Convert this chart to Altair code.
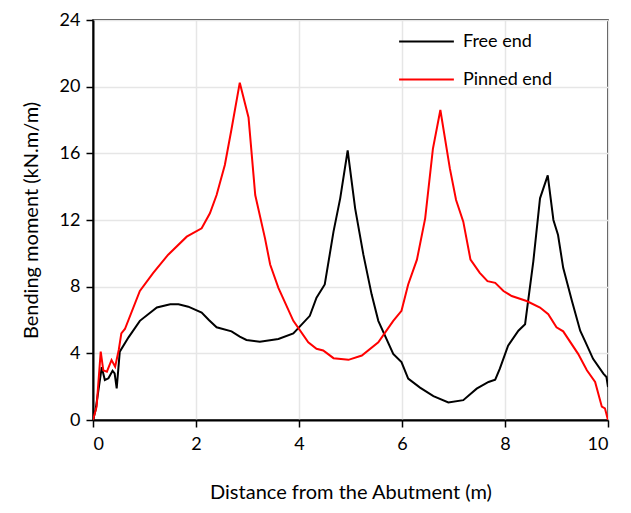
import altair as alt
import pandas as pd

free_x = [0.0, 0.05, 0.17, 0.23, 0.3, 0.38, 0.42, 0.46, 0.52, 0.69, 0.91, 1.24, 1.5, 1.66, 1.85,
          2.11, 2.25, 2.4, 2.69, 2.85, 2.98, 3.24, 3.6, 3.89, 4.21, 4.34, 4.5, 4.67, 4.8, 4.945,
          5.09, 5.25, 5.41, 5.54, 5.83, 5.99, 6.12, 6.35, 6.61, 6.9, 7.19, 7.45, 7.68, 7.81, 7.9,
          8.06, 8.26, 8.39, 8.55, 8.68, 8.83, 8.94, 9.03, 9.13, 9.3, 9.46, 9.55, 9.71, 9.91, 9.97, 10.0]
free_y = [0.0, 0.6, 3.17, 2.4, 2.5, 2.95, 2.8, 1.9, 4.1, 4.96, 5.95, 6.75, 6.94, 6.94, 6.8,
          6.45, 6.0, 5.56, 5.32, 5.0, 4.8, 4.7, 4.86, 5.2, 6.25, 7.34, 8.13, 11.3, 13.3, 16.17,
          12.7, 9.92, 7.54, 5.95, 3.97, 3.47, 2.48, 1.94, 1.43, 1.05, 1.19, 1.88, 2.28, 2.42, 3.08,
          4.46, 5.36, 5.75, 9.52, 13.3, 14.68, 12.0, 11.1, 9.13, 7.14, 5.36, 4.76, 3.67, 2.78, 2.58, 1.98]

pinned_x = [0.0, 0.07, 0.15, 0.2, 0.27, 0.36, 0.43, 0.5, 0.55, 0.62, 0.91, 1.17, 1.46, 1.82, 2.11,
            2.27, 2.4, 2.56, 2.69, 2.85, 3.02, 3.15, 3.34, 3.44, 3.6, 3.89, 4.18, 4.34, 4.47, 4.67,
            4.96, 5.22, 5.54, 5.83, 5.99, 6.12, 6.29, 6.45, 6.6, 6.745, 6.93, 7.05, 7.19, 7.33, 7.51,
            7.66, 7.81, 7.97, 8.13, 8.42, 8.68, 8.84, 9.0, 9.13, 9.42, 9.59, 9.75, 9.88, 9.94, 10.0]
pinned_y = [0.0, 0.8, 4.1, 2.98, 2.9, 3.6, 3.2, 4.2, 5.2, 5.46, 7.74, 8.83, 9.92, 11.0, 11.5,
            12.4, 13.5, 15.3, 17.46, 20.24, 18.15, 13.5, 10.9, 9.33, 7.93, 5.95, 4.66, 4.27, 4.17, 3.71,
            3.61, 3.87, 4.66, 5.95, 6.55, 8.13, 9.62, 12.1, 16.27, 18.6, 15.08, 13.2, 11.9, 9.62, 8.83,
            8.33, 8.23, 7.74, 7.44, 7.14, 6.75, 6.35, 5.56, 5.32, 3.97, 2.98, 2.28, 0.8, 0.7, 0.0]

series_names = ["Free end", "Pinned end"]
series_colors = ["#000000", "#ff0000"]
x_ticks = [0, 2, 4, 6, 8, 10]
y_ticks = [0, 4, 8, 12, 16, 20, 24]

rows = []
for i, (xs, ys) in enumerate([(free_x, free_y), (pinned_x, pinned_y)]):
    for j, (a, b) in enumerate(zip(xs, ys)):
        rows.append({"x": a, "y": b, "series": series_names[i], "order": j})
df = pd.DataFrame(rows)

FONT = "Lato"

chart = alt.Chart(df).mark_line(strokeWidth=2, clip=True).encode(
    x=alt.X("x:Q", scale=alt.Scale(domain=[0, 10], nice=False),
            axis=alt.Axis(values=x_ticks, title="Distance from the Abutment (m)",
                          titlePadding=29, labelPadding=8)),
    y=alt.Y("y:Q", scale=alt.Scale(domain=[0, 24], nice=False),
            axis=alt.Axis(values=y_ticks, title="Bending moment (kN.m/m)",
                          titlePadding=18, labelPadding=6)),
    color=alt.Color("series:N", scale=alt.Scale(domain=series_names, range=series_colors),
                    legend=alt.Legend(title=None, orient="none", legendX=305, legendY=-7,
                                      symbolType="stroke", symbolSize=3000, symbolStrokeWidth=2,
                                      labelFontSize=18, labelFont=FONT, labelColor="#000",
                                      labelOffset=8, rowPadding=-16)),
    order="order:Q",
).properties(
    width=515, height=400,
    autosize=alt.AutoSizeParams(type="none"),
    padding={"left": 85, "top": 12, "right": 15, "bottom": 85},
).configure_view(
    stroke="#000", strokeWidth=1.5
).configure_axis(
    grid=True, gridColor="#e6e6e6", gridWidth=1.5,
    domainColor="#000", domainWidth=2,
    tickColor="#000", tickSize=7, tickWidth=1.5,
    labelFont=FONT, labelFontSize=18, labelColor="#000",
    titleFont=FONT, titleFontSize=20, titleFontWeight="normal", titleColor="#000",
)

chart.save("out.html", embed_options={"renderer": "svg", "actions": False})
